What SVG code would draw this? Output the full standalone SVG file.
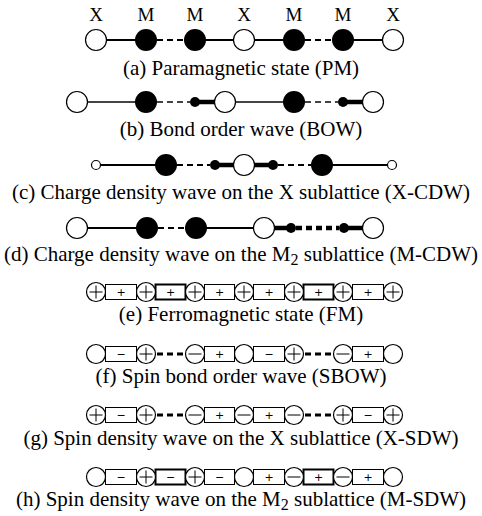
<svg xmlns="http://www.w3.org/2000/svg" width="482" height="516" viewBox="0 0 482 516">
<style>
.w{fill:#fff;stroke:#000;stroke-width:1.2}
.k{fill:#000}
.s{stroke:#000;stroke-width:2;fill:none}
.g{stroke:#444;stroke-width:2;fill:none}
.d{stroke:#000;stroke-width:2;stroke-dasharray:6 4;fill:none}
.gd{stroke:#444;stroke-width:2;stroke-dasharray:6 4;fill:none}
.t{stroke:#000;stroke-width:4.5;fill:none}
.td{stroke:#000;stroke-width:4.5;stroke-dasharray:6 4;fill:none}
.r{fill:#fff;stroke:#000;stroke-width:1}
.rt{fill:#fff;stroke:#000;stroke-width:2}
.sd{stroke:#000;stroke-width:3;stroke-dasharray:6 4;fill:none}
.pm{stroke:#000;stroke-width:1;fill:none}
.cap{font-family:"Liberation Serif","Times New Roman",serif;font-size:21px;text-anchor:middle;fill:#000}
.hd{font-family:"Liberation Serif","Times New Roman",serif;font-size:19px;text-anchor:middle;fill:#000}
.sg{font-family:"DejaVu Sans","Liberation Sans",sans-serif;font-size:11px;text-anchor:middle;fill:#000}
</style>
<defs>
<g id="cp"><circle r="9.5" class="w"/><path d="M-6.5 0H6.5M0 -6.5V6.5" class="pm"/></g>
<g id="cm"><circle r="9.5" class="w"/><path d="M-6.5 0H6.5" class="pm"/></g>
<g id="co"><circle r="9.5" class="w"/></g>
</defs>

<g id="header">
<text class="hd" x="96" y="21">X</text>
<text class="hd" x="146" y="21">M</text>
<text class="hd" x="195" y="21">M</text>
<text class="hd" x="244" y="21">X</text>
<text class="hd" x="294" y="21">M</text>
<text class="hd" x="343" y="21">M</text>
<text class="hd" x="393" y="21">X</text>
</g>

<!-- Row a -->
<g id="a-bonds">
<line class="s" x1="96" y1="40" x2="146" y2="40"/>
<line class="d" x1="157" y1="40" x2="184" y2="40"/>
<line class="s" x1="195" y1="40" x2="294" y2="40"/>
<line class="d" x1="305" y1="40" x2="332" y2="40"/>
<line class="s" x1="343" y1="40" x2="393" y2="40"/>
</g>
<g id="a-atoms">
<g id="a1"><circle class="w" cx="96" cy="40" r="10.5"/></g>
<g id="a2"><circle class="k" cx="146" cy="40" r="11"/></g>
<g id="a3"><circle class="k" cx="195" cy="40" r="11"/></g>
<g id="a4"><circle class="w" cx="244" cy="40" r="10.5"/></g>
<g id="a5"><circle class="k" cx="294" cy="40" r="11"/></g>
<g id="a6"><circle class="k" cx="343" cy="40" r="11"/></g>
<g id="a7"><circle class="w" cx="393" cy="40" r="10.5"/></g>
</g>
<text class="cap" x="241" y="75">(a) Paramagnetic state (PM)</text>

<!-- Row b -->
<g id="b-bonds">
<line class="g" x1="77" y1="102" x2="146" y2="102"/>
<line class="gd" x1="157" y1="102" x2="190" y2="102"/>
<line class="t" x1="195" y1="102" x2="225" y2="102"/>
<line class="g" x1="225" y1="102" x2="294" y2="102"/>
<line class="gd" x1="305" y1="102" x2="338" y2="102"/>
<line class="t" x1="343" y1="102" x2="373" y2="102"/>
</g>
<g id="b-atoms">
<g id="b1"><circle class="w" cx="77" cy="102" r="10.5"/></g>
<g id="b2"><circle class="k" cx="146" cy="102" r="11"/></g>
<g id="b3"><circle class="k" cx="195" cy="102" r="5"/></g>
<g id="b4"><circle class="w" cx="225" cy="102" r="10.5"/></g>
<g id="b5"><circle class="k" cx="294" cy="102" r="11"/></g>
<g id="b6"><circle class="k" cx="343" cy="102" r="5"/></g>
<g id="b7"><circle class="w" cx="373" cy="102" r="10.5"/></g>
</g>
<text class="cap" x="241" y="136">(b) Bond order wave (BOW)</text>

<!-- Row c -->
<g id="c-bonds">
<line class="s" x1="96" y1="165" x2="166" y2="165"/>
<line class="d" x1="177" y1="165" x2="210" y2="165"/>
<line class="t" x1="215" y1="165" x2="273" y2="165"/>
<line class="d" x1="278" y1="165" x2="311" y2="165"/>
<line class="s" x1="322" y1="165" x2="392" y2="165"/>
</g>
<g id="c-atoms">
<g id="c1"><circle class="w" cx="96" cy="165" r="4.5"/></g>
<g id="c2"><circle class="k" cx="166" cy="165" r="11"/></g>
<g id="c3"><circle class="k" cx="215" cy="165" r="5"/></g>
<g id="c4"><circle class="w" cx="244" cy="165" r="10.5"/></g>
<g id="c5"><circle class="k" cx="273" cy="165" r="5"/></g>
<g id="c6"><circle class="k" cx="322" cy="165" r="11"/></g>
<g id="c7"><circle class="w" cx="392" cy="165" r="4.5"/></g>
</g>
<text class="cap" x="241" y="199">(c) Charge density wave on the X sublattice (X-CDW)</text>

<!-- Row d -->
<g id="d-bonds">
<line class="s" x1="77" y1="228" x2="147" y2="228"/>
<line class="d" x1="158" y1="228" x2="185" y2="228"/>
<line class="s" x1="196" y1="228" x2="264" y2="228"/>
<line class="t" x1="264" y1="228" x2="291" y2="228"/>
<line class="td" x1="296" y1="228" x2="339" y2="228"/>
<line class="t" x1="344" y1="228" x2="373" y2="228"/>
</g>
<g id="d-atoms">
<g id="d1"><circle class="w" cx="77" cy="228" r="10.5"/></g>
<g id="d2"><circle class="k" cx="147" cy="228" r="11"/></g>
<g id="d3"><circle class="k" cx="196" cy="228" r="11"/></g>
<g id="d4"><circle class="w" cx="264" cy="228" r="10.5"/></g>
<g id="d5"><circle class="k" cx="291" cy="228" r="5"/></g>
<g id="d6"><circle class="k" cx="344" cy="228" r="5"/></g>
<g id="d7"><circle class="w" cx="373" cy="228" r="10.5"/></g>
</g>
<text class="cap" x="241" y="261">(d) Charge density wave on the M<tspan font-size="16" dy="4">2</tspan><tspan dy="-4"> sublattice (M-CDW)</tspan></text>

<!-- Row e -->
<g id="e-bonds">
<rect class="r" x="105.5" y="284.5" width="31" height="15"/><text class="sg" x="121" y="296">+</text>
<rect class="rt" x="155.5" y="284.5" width="30" height="15"/><text class="sg" x="170.5" y="296">+</text>
<rect class="r" x="204.5" y="284.5" width="30" height="15"/><text class="sg" x="219.5" y="296">+</text>
<rect class="r" x="253.5" y="284.5" width="31" height="15"/><text class="sg" x="269" y="296">+</text>
<rect class="rt" x="303.5" y="284.5" width="30" height="15"/><text class="sg" x="318.5" y="296">+</text>
<rect class="r" x="352.5" y="284.5" width="31" height="15"/><text class="sg" x="368" y="296">+</text>
</g>
<g id="e-atoms">
<g id="e1"><use href="#cp" x="96" y="292"/></g>
<g id="e2"><use href="#cp" x="146" y="292"/></g>
<g id="e3"><use href="#cp" x="195" y="292"/></g>
<g id="e4"><use href="#cp" x="244" y="292"/></g>
<g id="e5"><use href="#cp" x="294" y="292"/></g>
<g id="e6"><use href="#cp" x="343" y="292"/></g>
<g id="e7"><use href="#cp" x="393" y="292"/></g>
</g>
<text class="cap" x="241" y="321">(e) Ferromagnetic state (FM)</text>

<!-- Row f -->
<g id="f-bonds">
<rect class="r" x="105.5" y="346.5" width="31" height="15"/><text class="sg" x="121" y="358">−</text>
<line class="sd" x1="157" y1="354" x2="184" y2="354"/>
<rect class="r" x="204.5" y="346.5" width="30" height="15"/><text class="sg" x="219.5" y="358">+</text>
<rect class="r" x="253.5" y="346.5" width="31" height="15"/><text class="sg" x="269" y="358">−</text>
<line class="sd" x1="305" y1="354" x2="332" y2="354"/>
<rect class="r" x="352.5" y="346.5" width="31" height="15"/><text class="sg" x="368" y="358">+</text>
</g>
<g id="f-atoms">
<g id="f1"><use href="#co" x="96" y="354"/></g>
<g id="f2"><use href="#cp" x="146" y="354"/></g>
<g id="f3"><use href="#cm" x="195" y="354"/></g>
<g id="f4"><use href="#co" x="244" y="354"/></g>
<g id="f5"><use href="#cp" x="294" y="354"/></g>
<g id="f6"><use href="#cm" x="343" y="354"/></g>
<g id="f7"><use href="#co" x="393" y="354"/></g>
</g>
<text class="cap" x="241" y="383">(f) Spin bond order wave (SBOW)</text>

<!-- Row g -->
<g id="g-bonds">
<rect class="r" x="105.5" y="407.5" width="31" height="15"/><text class="sg" x="121" y="419">−</text>
<line class="sd" x1="157" y1="415" x2="184" y2="415"/>
<rect class="r" x="204.5" y="407.5" width="30" height="15"/><text class="sg" x="219.5" y="419">+</text>
<rect class="r" x="253.5" y="407.5" width="31" height="15"/><text class="sg" x="269" y="419">+</text>
<line class="sd" x1="305" y1="415" x2="332" y2="415"/>
<rect class="r" x="352.5" y="407.5" width="31" height="15"/><text class="sg" x="368" y="419">−</text>
</g>
<g id="g-atoms">
<g id="g1"><use href="#cp" x="96" y="415"/></g>
<g id="g2"><use href="#cp" x="146" y="415"/></g>
<g id="g3"><use href="#cm" x="195" y="415"/></g>
<g id="g4"><use href="#cm" x="244" y="415"/></g>
<g id="g5"><use href="#cm" x="294" y="415"/></g>
<g id="g6"><use href="#cp" x="343" y="415"/></g>
<g id="g7"><use href="#cp" x="393" y="415"/></g>
</g>
<text class="cap" x="241" y="445">(g) Spin density wave on the X sublattice (X-SDW)</text>

<!-- Row h -->
<g id="h-bonds">
<rect class="r" x="105.5" y="469.5" width="31" height="15"/><text class="sg" x="121" y="481">−</text>
<rect class="rt" x="155.5" y="469.5" width="30" height="15"/><text class="sg" x="170.5" y="481">−</text>
<rect class="r" x="204.5" y="469.5" width="30" height="15"/><text class="sg" x="219.5" y="481">−</text>
<rect class="r" x="253.5" y="469.5" width="31" height="15"/><text class="sg" x="269" y="481">+</text>
<rect class="rt" x="303.5" y="469.5" width="30" height="15"/><text class="sg" x="318.5" y="481">+</text>
<rect class="r" x="352.5" y="469.5" width="31" height="15"/><text class="sg" x="368" y="481">+</text>
</g>
<g id="h-atoms">
<g id="h1"><use href="#co" x="96" y="477"/></g>
<g id="h2"><use href="#cp" x="146" y="477"/></g>
<g id="h3"><use href="#cp" x="195" y="477"/></g>
<g id="h4"><use href="#co" x="244" y="477"/></g>
<g id="h5"><use href="#cm" x="294" y="477"/></g>
<g id="h6"><use href="#cm" x="343" y="477"/></g>
<g id="h7"><use href="#co" x="393" y="477"/></g>
</g>
<text class="cap" x="241" y="506">(h) Spin density wave on the M<tspan font-size="16" dy="4">2</tspan><tspan dy="-4"> sublattice (M-SDW)</tspan></text>
</svg>
